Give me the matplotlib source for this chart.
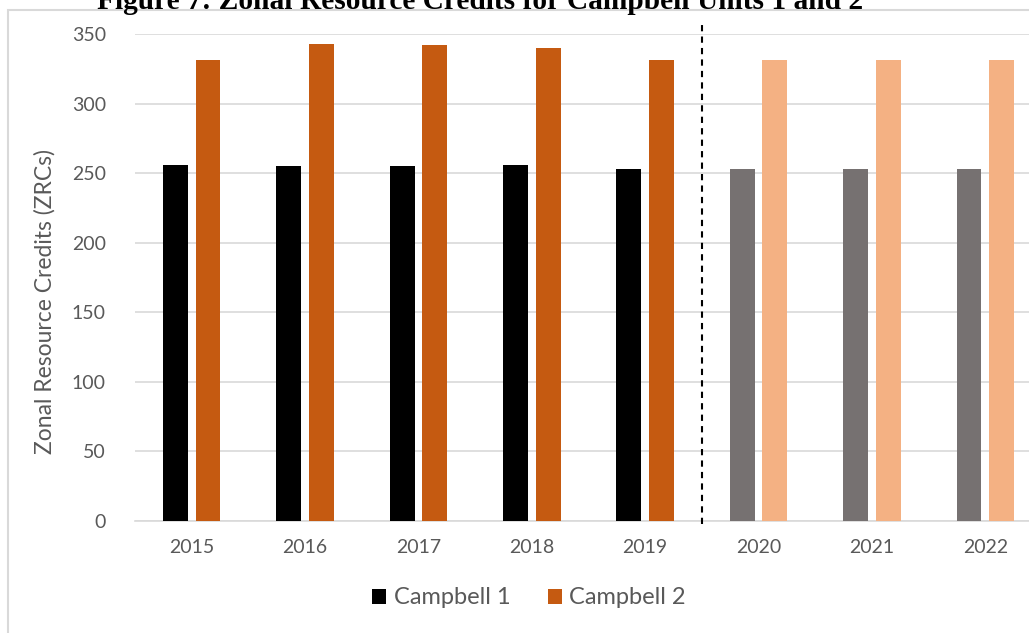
import matplotlib
matplotlib.use("Agg")
import matplotlib.pyplot as plt
from matplotlib.patches import Rectangle, Patch
import numpy as np

years = ["2015", "2016", "2017", "2018", "2019", "2020", "2021", "2022"]
campbell_1 = [256, 255, 255, 256, 253, 253, 253, 253]
campbell_2 = [331, 343, 342, 340, 331, 331, 331, 331]
n_actual = 5  # first five years are historical, the rest are projections

c1_hist, c1_proj = "#000000", "#767171"
c2_hist, c2_proj = "#C55A11", "#F4B183"
text_grey = "#595959"
grid_grey = "#D9D9D9"

W, H = 1029, 633
fig = plt.figure(figsize=(W / 100, H / 100), dpi=100)
fig.patch.set_facecolor("white")

# plot area in pixel coordinates
left_px, right_px, top_px, bottom_px = 135, 1042, 34, 521
ax = fig.add_axes([left_px / W, 1 - bottom_px / H,
                   (right_px - left_px) / W, (bottom_px - top_px) / H])

x = np.arange(len(years))
bw = 0.22
off = 0.144
c1_colors = [c1_hist if i < n_actual else c1_proj for i in range(len(years))]
c2_colors = [c2_hist if i < n_actual else c2_proj for i in range(len(years))]
ax.bar(x - off, campbell_1, width=bw, color=c1_colors, zorder=3)
ax.bar(x + off, campbell_2, width=bw, color=c2_colors, zorder=3)

ax.set_xlim(-0.5, len(years) - 0.5)
ax.set_ylim(0, 350)
ax.set_yticks(np.arange(0, 351, 50))
ax.set_xticks(x)
ax.set_xticklabels(years)
ax.yaxis.grid(True, color=grid_grey, linewidth=1.2, zorder=0)
ax.set_axisbelow(True)
for s in ["top", "right", "left"]:
    ax.spines[s].set_visible(False)
ax.spines["bottom"].set_color(grid_grey)
ax.spines["bottom"].set_linewidth(1.2)
ax.tick_params(axis="both", length=0, labelsize=14, labelcolor=text_grey)
ax.tick_params(axis="x", pad=13)
ax.tick_params(axis="y", pad=21)
for lbl in ax.get_xticklabels() + ax.get_yticklabels():
    lbl.set_family("Lato")

ax.set_ylabel("Zonal Resource Credits (ZRCs)", fontsize=16.5, color=text_grey,
              family="Lato", va="center")
ax.yaxis.set_label_coords(-0.099, 0.45)

# divider between historical and projected years
ax.plot([n_actual - 0.5, n_actual - 0.5], [-2, 360], color="black",
        linewidth=1.5, linestyle=(0, (3, 2.5)), clip_on=False, zorder=4)

handles = [Patch(facecolor=c1_hist), Patch(facecolor=c2_hist)]
fig.legend(handles, ["Campbell 1", "Campbell 2"], loc="center",
           bbox_to_anchor=(529 / W, 1 - 598 / H), ncol=2, frameon=False,
           prop={"family": "Lato", "size": 17}, labelcolor=text_grey,
           handlelength=0.6, handleheight=0.6, handletextpad=0.3,
           columnspacing=1.6)

# chart frame
fig.add_artist(Rectangle((7.5 / W, -0.05), 1.2, 1 - 10 / H + 0.05,
                         transform=fig.transFigure, fill=False,
                         edgecolor=grid_grey, linewidth=1.5))

fig.text(97 / W, 1 - 9 / H,
         "Figure 7: Zonal Resource Credits for Campbell Units 1 and 2",
         family="Liberation Serif", weight="bold", fontsize=21.2,
         ha="left", va="baseline", color="black")

fig.savefig("out.png", dpi=100, facecolor="white")
